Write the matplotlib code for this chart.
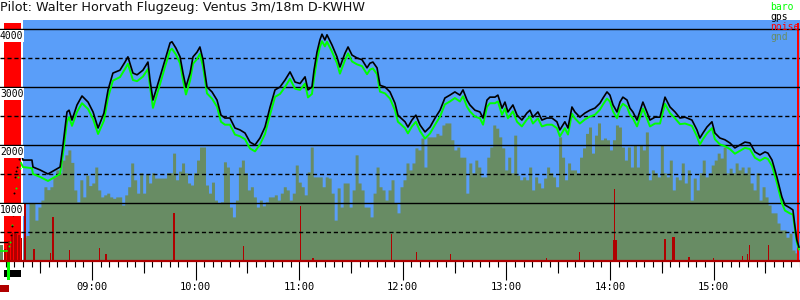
import numpy as np
import matplotlib
matplotlib.use("Agg")
from matplotlib import pyplot as plt
from matplotlib import transforms
from matplotlib.patches import Rectangle
from matplotlib.ticker import FuncFormatter, MultipleLocator

TITLE = "Pilot: Walter Horvath Flugzeug: Ventus 3m/18m D-KWHW"

# times in minutes after midnight, altitudes in m
gps_t = [498.9, 500.0, 505.2, 505.8, 509.9, 514.5, 518.6, 521.5, 523.2, 525.5,
         526.7, 528.4, 531.3, 534.2, 537.7, 540.6, 543.5, 546.9, 549.3, 552.1,
         556.2, 559.1, 560.8, 563.7, 566.1, 569.5, 572.4, 573.6, 575.3, 577.1,
         579.4, 582.3, 585.2, 586.3, 588.6, 591.0, 592.7, 594.4, 596.8, 598.5,
         600.8, 602.5, 604.3, 606.6, 609.5, 612.4, 614.7, 617.0, 619.9, 622.8,
         625.7, 628.6, 631.5, 634.4, 637.3, 640.2, 643.1, 646.0, 648.9, 651.8,
         654.7, 657.6, 660.5, 663.4, 665.1, 667.4, 668.6, 670.3, 672.0, 673.2,
         674.9, 676.1, 679.0, 681.9, 683.6, 686.5, 688.3, 690.6, 693.5, 696.4,
         699.3, 701.0, 702.7, 705.1, 706.8, 709.7, 712.6, 715.5, 717.2, 718.4,
         721.3, 723.0, 725.3, 727.6, 730.0, 732.9, 735.8, 738.7, 741.6, 744.4,
         747.3, 750.2, 753.1, 754.9, 757.2, 758.9, 761.8, 764.7, 766.5, 768.8,
         770.5, 773.4, 775.1, 777.5, 779.2, 780.9, 783.8, 786.2, 789.0, 791.9,
         793.7, 795.4, 798.3, 800.6, 803.5, 806.4, 809.3, 811.0, 813.9, 815.7,
         818.0, 819.7, 822.6, 825.5, 828.4, 831.3, 834.2, 836.0, 838.3, 840.0,
         841.8, 844.1, 845.8, 847.5, 849.9, 851.6, 853.3, 855.7, 859.1, 861.4,
         863.2, 866.1, 869.0, 871.9, 874.8, 877.7, 880.6, 883.5, 887.5, 890.4,
         892.1, 893.9, 896.2, 899.1, 900.8, 903.7, 906.6, 909.5, 912.4, 915.3,
         918.2, 921.1, 924.0, 926.9, 929.8, 931.5, 933.9, 936.7, 939.6, 941.4,
         944.3, 946.0, 947.2, 948.3, 949.5]
gps_alt = [1860, 1740, 1740, 1620, 1570, 1500, 1570, 1620, 2000, 2570,
           2600, 2430, 2690, 2845, 2740, 2570, 2293, 2550, 2950, 3240,
           3290, 3430, 3520, 3240, 3210, 3290, 3430, 3120, 2775, 2950,
           3175, 3470, 3760, 3780, 3670, 3520, 3240, 3000, 3240, 3520,
           3600, 3690, 3470, 3000, 2915, 2775, 2515, 2465, 2465, 2293,
           2260, 2207, 2050, 2000, 2120, 2310, 2650, 2950, 3000, 3120,
           3260, 3085, 3060, 3175, 2950, 3000, 3290, 3600, 3810, 3910,
           3810, 3900, 3725, 3520, 3345, 3580, 3690, 3550, 3500, 3470,
           3330, 3410, 3430, 3330, 3030, 3000, 2915, 2720, 2515, 2480,
           2400, 2310, 2430, 2515, 2345, 2225, 2310, 2465, 2600, 2810,
           2860, 2915, 2860, 2950, 2775, 2690, 2600, 2570, 2465, 2775,
           2825, 2825, 2860, 2635, 2740, 2570, 2690, 2515, 2430, 2550,
           2600, 2480, 2570, 2430, 2465, 2465, 2400, 2260, 2400, 2293,
           2655, 2570, 2480, 2550, 2600, 2635, 2720, 2810, 2915, 2860,
           2690, 2570, 2740, 2825, 2775, 2635, 2570, 2430, 2740, 2570,
           2430, 2480, 2480, 2825, 2655, 2570, 2465, 2480, 2430, 2260,
           2120, 2207, 2310, 2400, 2207, 2120, 2090, 2035, 1950, 2000,
           2050, 2035, 1880, 1830, 1880, 1860, 1740, 1450, 1105, 965,
           915, 880, 590, 360, 240]
baro_alt = [1690, 1620, 1600, 1500, 1450, 1380, 1450, 1500, 1850, 2400,
            2480, 2330, 2570, 2720, 2620, 2450, 2190, 2420, 2820, 3110,
            3170, 3310, 3400, 3120, 3100, 3180, 3310, 3010, 2640, 2820,
            3050, 3350, 3630, 3660, 3560, 3410, 3120, 2870, 3110, 3400,
            3480, 3570, 3350, 2890, 2800, 2660, 2400, 2350, 2350, 2180,
            2150, 2100, 1940, 1890, 2010, 2190, 2520, 2830, 2880, 3000,
            3140, 2970, 2950, 3060, 2820, 2880, 3150, 3470, 3690, 3790,
            3700, 3780, 3610, 3410, 3230, 3460, 3580, 3440, 3390, 3360,
            3220, 3300, 3320, 3220, 2920, 2890, 2800, 2600, 2400, 2370,
            2290, 2200, 2320, 2400, 2240, 2110, 2200, 2350, 2490, 2700,
            2750, 2810, 2750, 2840, 2660, 2580, 2490, 2460, 2350, 2660,
            2720, 2720, 2750, 2520, 2630, 2460, 2580, 2400, 2320, 2440,
            2490, 2370, 2460, 2320, 2350, 2350, 2290, 2150, 2290, 2180,
            2540, 2460, 2370, 2440, 2490, 2520, 2610, 2700, 2800, 2750,
            2580, 2460, 2630, 2710, 2660, 2520, 2460, 2320, 2630, 2460,
            2320, 2370, 2370, 2710, 2550, 2460, 2360, 2370, 2330, 2150,
            2010, 2100, 2200, 2290, 2100, 2010, 1980, 1930, 1850, 1900,
            1950, 1930, 1780, 1730, 1780, 1760, 1640, 1350, 1000, 870,
            820, 800, 540, 320, 200]

# before take-off and during the engine climb (scattered fixes)
pre_t = [486.7, 490.8]
pre_gps = [330, 330]
pre_baro = [175, 175]
climb_gps_t = [493.1, 493.7, 494.2, 494.8, 495.4, 496.0, 496.5, 497.7]
climb_gps = [450, 600, 790, 1170, 1450, 1560, 1620, 1750]
climb_baro_t = [491.9, 492.5, 493.7, 494.8, 496.0, 497.1, 498.3]
climb_baro = [250, 330, 620, 900, 1250, 1450, 1600]

# ground elevation, sampled every 104 s from 08:20
gnd_start = 500.0
gnd_step = 104 / 60
gnd = [410, 440, 1000, 1000, 705, 930, 1050, 1280, 1230, 1280,
       1450, 1570, 1520, 1740, 1830, 1915, 1700, 1225, 1020, 1400,
       1105, 1480, 1300, 1345, 1620, 1225, 1105, 1140, 1170, 1105,
       1080, 1105, 1105, 965, 1140, 1280, 1690, 1400, 1170, 1520,
       1170, 1500, 1345, 1520, 1430, 1430, 1430, 1430, 1520, 1520,
       1860, 1400, 1550, 1690, 1520, 1345, 1310, 1520, 1740, 1965,
       1965, 1310, 1170, 1360, 1050, 1000, 1020, 1710, 1620, 930,
       760, 1050, 1620, 1740, 1520, 1225, 1280, 1105, 930, 1050,
       950, 1020, 1105, 1105, 1140, 1050, 1170, 1280, 1225, 1050,
       1170, 1655, 1360, 1280, 1140, 1535, 1965, 1450, 1450, 1450,
       1280, 1450, 1430, 1170, 705, 1260, 930, 1345, 1345, 930,
       1225, 1830, 1345, 1225, 930, 930, 760, 1170, 1620, 1280,
       1225, 1050, 1225, 1400, 1000, 830, 1280, 1400, 1690, 1570,
       1690, 1950, 1915, 2120, 1620, 2140, 2140, 2140, 2200, 2170,
       2345, 2380, 2380, 2090, 1915, 1965, 1790, 1790, 1170, 1690,
       1520, 1740, 1620, 1450, 1450, 1790, 1965, 2345, 2290, 2140,
       1950, 1570, 1790, 1520, 2170, 1480, 1400, 1450, 1400, 1620,
       1225, 1450, 1345, 1260, 1430, 1620, 1520, 1450, 1280, 2140,
       1790, 1400, 1690, 1570, 1570, 1520, 1790, 1950, 2200, 2310,
       1860, 2170, 2380, 2090, 2120, 2090, 1915, 2090, 2345, 2310,
       1965, 1740, 1965, 1620, 2000, 1620, 2000, 1915, 2225, 1400,
       1570, 1520, 1450, 2000, 1520, 1450, 1740, 1225, 1450, 1400,
       1690, 1345, 1570, 1050, 1430, 1225, 1520, 1740, 1450, 1520,
       1655, 1740, 1860, 1775, 1965, 1520, 1600, 1520, 1690, 1570,
       1620, 1520, 1620, 1345, 1225, 1520, 1050, 1280, 1105, 965,
       830, 830, 655, 535, 535, 410, 480, 190, 140]
gnd_pre_t = [486.7, 488.5]
gnd_pre = [275, 275]

noise_t = [489.6, 490.8, 491.9, 493.1, 494.2, 495.4, 496.5, 497.7, 498.9,
           501.2, 506.4, 516.2, 517.4, 527.2, 544.6, 548.1, 587.5, 628.0,
           661.0, 668.0, 713.7, 728.2, 747.9, 803.5, 822.6, 842.3, 842.9,
           843.5, 871.9, 876.5, 877.1, 885.8, 900.2, 917.0, 919.9, 921.1,
           932.1]
noise = [200, 280, 350, 420, 480, 500, 470, 440, 400,
         1000, 200, 140, 760, 190, 225, 120, 830, 260,
         950, 60, 465, 155, 120, 50, 155, 360, 1240,
         360, 380, 415, 415, 70, 50, 90, 120, 275,
         275]

# engine running (noise above limit)
engine_on = [(489.0, 498.9), (948.5, 949.4)]
takeoff = 490.8
t_min, t_max = 486.7, 950.1
flight_start = 500.0

c_sky = "#5a9ef9"
c_gnd = "#688c64"
c_baro = "#00ff00"
c_noise = "#b00000"
c_engine = "#ff0000"
mono = "DejaVu Sans Mono"

fig = plt.figure(figsize=(8, 3), dpi=100)
ax = fig.add_axes([0, 39 / 300, 1, 241 / 300])
ax.set_xlim(t_min, t_max)
ax.set_ylim(0, 4155)
ax.set_facecolor("white")

ax.axvspan(flight_start, t_max, color=c_sky, lw=0, zorder=0)

gnd_t = gnd_start + gnd_step * np.arange(len(gnd))
ax.fill_between(np.append(gnd_t, gnd_t[-1] + gnd_step), np.append(gnd, gnd[-1]),
                step="post", color=c_gnd, lw=0, zorder=1)
ax.fill_between(gnd_pre_t, gnd_pre, step="post", color=c_gnd, lw=0, zorder=1)

for a, b in engine_on:
    ax.bar(a, 4103, width=b - a, align="edge", color=c_engine, lw=0, zorder=1.5)

ax.bar(noise_t, noise, width=0.62, color=c_noise, lw=0, zorder=2)

for v in range(500, 4001, 500):
    if v % 1000 == 0:
        ax.axhline(v, color="black", lw=1.0, zorder=3)
    else:
        ax.axhline(v, color="black", lw=1.0, ls=(0, (3.0, 2.0)), zorder=3)

ax.plot(pre_t, pre_baro, color=c_baro, lw=1.2, zorder=4)
ax.plot(pre_t, pre_gps, color="black", lw=1.0, zorder=4)
ax.scatter(climb_baro_t, climb_baro, s=2, color=c_baro, lw=0, zorder=4)
ax.scatter(climb_gps_t, climb_gps, s=2, color="black", lw=0, zorder=4)
ax.plot(gps_t, baro_alt, color=c_baro, lw=1.4, zorder=4)
ax.plot(gps_t, gps_alt, color="black", lw=1.2, zorder=5)

# altitude labels inside the plot
lab_tr = transforms.blended_transform_factory(ax.transAxes, ax.transData) + \
    transforms.ScaledTranslation(0, -2 / 100, fig.dpi_scale_trans)
for v in [1000, 2000, 3000, 4000]:
    ax.text(0.0, v, str(v), transform=lab_tr, ha="left", va="top", family=mono,
            fontsize=7, color="black", zorder=6,
            bbox=dict(facecolor="white", edgecolor="none", pad=0.6))

for s in ["top", "left", "right"]:
    ax.spines[s].set_visible(False)
ax.spines["bottom"].set_color(c_noise)
ax.spines["bottom"].set_linewidth(1.6)
ax.spines["bottom"].set_zorder(6)
ax.set_yticks([])

ax.xaxis.set_major_locator(MultipleLocator(60))
ax.xaxis.set_minor_locator(MultipleLocator(5))
ax.xaxis.set_major_formatter(FuncFormatter(lambda v, p: f"{int(v // 60):02d}:{int(v % 60):02d}"))
ax.tick_params(axis="x", which="major", length=13.5, width=0.8, color="black", pad=1.5,
               labelsize=7.5)
ax.tick_params(axis="x", which="minor", length=4.5, width=0.8, color="black")
for lbl in ax.get_xticklabels():
    lbl.set_family(mono)
half_hours = np.arange(510, t_max, 60)
bot_tr = transforms.blended_transform_factory(ax.transData, ax.transAxes)
ax.vlines(half_hours, -12 / 241, 0, transform=bot_tr, color="black", lw=0.8, clip_on=False)

# engine / take-off markers under the axis
ax.add_patch(Rectangle((engine_on[0][0], -16 / 241), engine_on[0][1] - engine_on[0][0], 7 / 241,
                       transform=bot_tr, color="black", lw=0, clip_on=False))
ax.add_patch(Rectangle((takeoff, -19 / 241), 1.6, 19 / 241,
                       transform=bot_tr, color=c_baro, lw=0, clip_on=False))
ax.add_patch(Rectangle((t_min, -31 / 241), takeoff + 1.2 - t_min, 7 / 241,
                       transform=bot_tr, color=c_noise, lw=0, clip_on=False))

fig.text(0.0, 1 - 11 / 300, TITLE, ha="left", va="baseline", fontsize=9.2,
         family="DejaVu Sans", color="#111111")

legend = [("baro", c_baro), ("gps", "black"), ("noise", c_engine), ("gnd", c_gnd)]
for i, (name, col) in enumerate(legend):
    fig.text(770 / 800, 1 - (10 + 10 * i) / 300, name, ha="left", va="baseline",
             family=mono, fontsize=7, color=col)

fig.savefig("out.png", dpi=100)
